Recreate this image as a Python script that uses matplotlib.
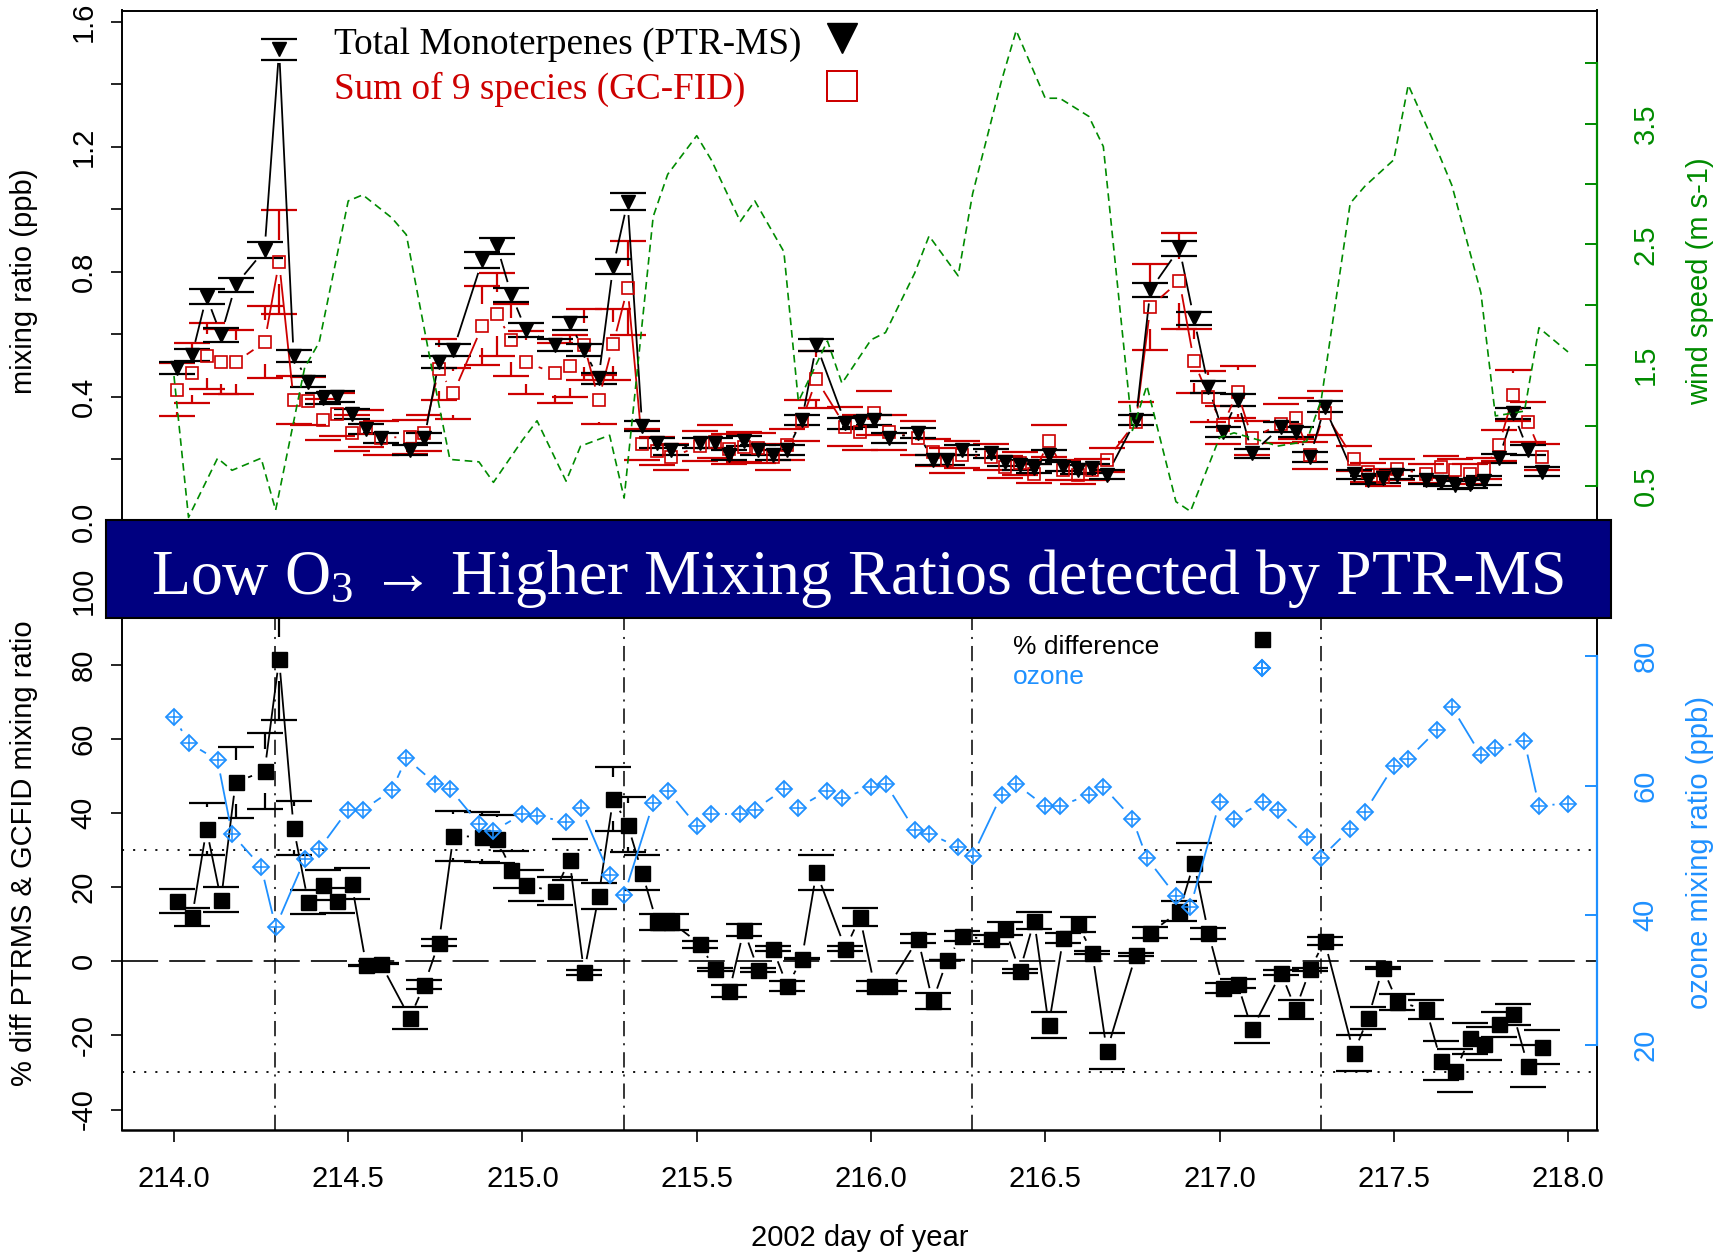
import numpy as np
import matplotlib
matplotlib.use("Agg")
import matplotlib.pyplot as plt
from matplotlib.collections import LineCollection
from matplotlib.lines import Line2D
from matplotlib.patches import Rectangle
from matplotlib.ticker import FixedLocator, FuncFormatter

plt.rcParams['font.family'] = ['Liberation Sans', 'DejaVu Sans']
plt.rcParams['axes.unicode_minus'] = False
plt.rcParams['mathtext.fontset'] = 'dejavuserif'
plt.rcParams['mathtext.default'] = 'regular'
plt.rcParams['lines.scale_dashes'] = False

# ---------------- data ----------------
# hours after day 214.01 with a PTR-MS / GC-FID pair
comp_hour = [0, 1, 2, 3, 4, 6, 7, 8, 9, 10, 11, 12, 13, 14, 16, 17, 18, 19,
             21, 22, 23, 24, 26, 27, 28, 29, 30, 31, 32, 33, 34, 36, 37, 38,
             39, 40, 41, 42, 43, 44, 46, 47, 48, 49, 51, 52, 53, 54, 56, 57,
             58, 59, 60, 61, 62, 63, 64, 66, 67, 69, 70, 71, 72, 73, 74, 76,
             77, 78, 79, 81, 82, 83, 84, 86, 87, 88, 89, 90, 91, 92, 93, 94]
ptr_ms = [0.491, 0.534, 0.721, 0.598, 0.758, 0.870, 1.512, 0.531, 0.449, 0.395,
          0.400, 0.345, 0.296, 0.267, 0.230, 0.267, 0.512, 0.550, 0.838, 0.883,
          0.726, 0.614, 0.566, 0.635, 0.550, 0.459, 0.817, 1.025, 0.307, 0.251,
          0.230, 0.253, 0.251, 0.214, 0.260, 0.230, 0.214, 0.230, 0.326, 0.566,
          0.315, 0.320, 0.326, 0.267, 0.285, 0.198, 0.198, 0.230, 0.219, 0.192,
          0.182, 0.171, 0.214, 0.176, 0.166, 0.171, 0.150, 0.326, 0.742, 0.875,
          0.651, 0.432, 0.288, 0.390, 0.219, 0.304, 0.288, 0.208, 0.368, 0.152,
          0.134, 0.139, 0.150, 0.134, 0.128, 0.118, 0.121, 0.132, 0.203, 0.347,
          0.230, 0.160]
gc_fid = [0.423, 0.477, 0.531, 0.513, 0.511, 0.575, 0.833, 0.390, 0.387, 0.327,
          0.344, 0.285, 0.299, 0.269, 0.272, 0.285, 0.488, 0.411, 0.628, 0.664,
          0.582, 0.510, 0.476, 0.498, 0.567, 0.391, 0.568, 0.749, 0.248, 0.227,
          0.208, 0.242, 0.257, 0.233, 0.240, 0.236, 0.207, 0.247, 0.324, 0.456,
          0.305, 0.286, 0.349, 0.286, 0.269, 0.222, 0.197, 0.215, 0.207, 0.176,
          0.187, 0.154, 0.258, 0.166, 0.151, 0.167, 0.198, 0.320, 0.689, 0.771,
          0.514, 0.401, 0.310, 0.415, 0.268, 0.314, 0.331, 0.213, 0.349, 0.202,
          0.158, 0.142, 0.168, 0.154, 0.175, 0.167, 0.153, 0.170, 0.245, 0.405,
          0.320, 0.208]
pct_diff = [16.2, 11.9, 35.7, 16.6, 48.3, 51.4, 81.5, 36.0, 16.0, 20.6, 16.4,
            20.9, -1.1, -0.6, -15.3, -6.3, 5.0, 33.9, 33.5, 33.0, 24.7, 20.5,
            18.9, 27.4, -3.0, 17.5, 43.8, 36.9, 23.9, 10.6, 10.6, 4.6, -2.2,
            -8.1, 8.5, -2.4, 3.4, -6.7, 0.7, 24.0, 3.4, 11.9, -6.6, -6.6, 6.1,
            -10.8, 0.3, 6.8, 5.9, 8.8, -2.7, 11.0, -17.2, 6.3, 10.0, 2.3, -24.2,
            1.8, 7.7, 13.5, 26.6, 7.6, -7.2, -6.0, -18.4, -3.1, -12.9, -2.2, 5.5,
            -24.7, -15.3, -1.8, -10.9, -13.0, -26.8, -29.5, -20.8, -22.2, -17.0,
            -14.3, -28.2, -23.1]

# hours after day 214.0 with ozone and wind speed
met_hour = [0, 1, 3, 4, 6, 7, 9, 10, 12, 13, 15, 16, 18, 19, 21, 22, 24, 25,
            27, 28, 30, 31, 33, 34, 36, 37, 39, 40, 42, 43, 45, 46, 48, 49, 51,
            52, 54, 55, 57, 58, 60, 61, 63, 64, 66, 67, 69, 70, 72, 73, 75, 76,
            78, 79, 81, 82, 84, 85, 87, 88, 90, 91, 93, 94, 96]
ozone = [70.6, 66.6, 63.9, 52.5, 47.5, 38.2, 48.6, 50.2, 56.3, 56.2, 59.3, 64.2,
         60.3, 59.5, 54.1, 53.0, 55.6, 55.3, 54.4, 56.6, 46.2, 43.1, 57.3, 59.2,
         53.8, 55.6, 55.6, 56.3, 59.4, 56.6, 59.2, 58.0, 59.7, 60.3, 53.2, 52.6,
         50.5, 49.2, 58.6, 60.2, 56.8, 56.8, 58.6, 59.8, 54.9, 48.8, 43.0, 41.3,
         57.4, 54.9, 57.5, 56.2, 52.1, 48.9, 53.3, 55.9, 63.0, 64.1, 68.6, 72.1,
         64.7, 65.8, 66.8, 56.9, 57.2]
wind = [1.41, 0.24, 0.73, 0.63, 0.73, 0.30, 1.48, 1.69, 2.86, 2.91, 2.72, 2.58,
        1.32, 0.72, 0.70, 0.53, 0.88, 1.04, 0.54, 0.83, 0.92, 0.40, 2.73, 3.08,
        3.40, 3.20, 2.69, 2.86, 2.44, 1.20, 1.70, 1.35, 1.71, 1.77, 2.26, 2.57,
        2.24, 2.92, 3.86, 4.27, 3.71, 3.71, 3.56, 3.31, 0.96, 1.33, 0.37, 0.29,
        0.90, 0.94, 0.87, 0.83, 0.87, 1.21, 2.84, 2.98, 3.20, 3.82, 3.28, 2.99,
        2.10, 1.08, 1.12, 1.81, 1.61]

morning = [214.29, 215.29, 216.29, 217.29]

# measurement uncertainties
PTR_ERR_ABS, PTR_ERR_REL = 0.012, 0.015
GC_ERR_REL = 0.20
PCT_ERR_REL = 0.20

comp_day = 214.01 + np.array(comp_hour) / 24.0
met_day = 214.0 + np.array(met_hour) / 24.0
ptr_ms = np.array(ptr_ms)
gc_fid = np.array(gc_fid)
pct_diff = np.array(pct_diff)

RED = '#cd0000'
GREEN = '#008b00'
BLUE = '#1e90ff'
NAVY = '#000080'
SERIF = ['Liberation Serif', 'DejaVu Serif']

W, H = 1726, 1254
fig = plt.figure(figsize=(W / 100, H / 100), dpi=100)


def add_axes_px(left, top, right, bottom):
    return fig.add_axes([left / W, 1 - bottom / H, (right - left) / W, (bottom - top) / H])


ax_top = add_axes_px(122.2, 10.5, 1597, 552)
ax_bot = add_axes_px(122.2, 576, 1597, 1130)
ax_wind = ax_top.twinx()
ax_oz = ax_bot.twinx()

XLIM = (213.8514, 218.0832)
for a in (ax_top, ax_bot):
    a.set_xlim(*XLIM)
ax_top.set_ylim(-0.0967, 1.6368)
ax_wind.set_ylim(-0.0464, 4.4363)
ax_bot.set_ylim(-45.53, 103.99)
ax_oz.set_ylim(6.92, 92.28)

GAP_B = 13.5     # px gap at points for "both" lines
CI_GAP = 22.0    # px gap between point and error bar
CAP = 18.0       # px half width of caps


def line_b(ax, x, y, **kw):
    to_px = ax.transData.transform
    to_data = ax.transData.inverted().transform
    pts = to_px(np.column_stack([x, y]))
    segs = []
    for p0, p1 in zip(pts[:-1], pts[1:]):
        d = p1 - p0
        L = np.hypot(*d)
        if not np.isfinite(L) or L <= 2 * GAP_B:
            continue
        u = d / L
        segs.append(to_data(np.array([p0 + u * GAP_B, p1 - u * GAP_B])))
    ax.add_collection(LineCollection(segs, **kw))


def error_ci(ax, x, y, err, color, lw=1.6, zorder=2):
    to_px = ax.transData.transform
    to_data = ax.transData.inverted().transform
    segs = []
    for xi, yi, ei in zip(x, y, err):
        cx, cy = to_px((xi, yi))
        hi = to_px((xi, yi + ei))[1]
        lo = to_px((xi, yi - ei))[1]
        segs.append([(cx - CAP, hi), (cx + CAP, hi)])
        segs.append([(cx - CAP, lo), (cx + CAP, lo)])
        if hi - cy > CI_GAP:
            segs.append([(cx, cy + CI_GAP), (cx, hi)])
        if cy - lo > CI_GAP:
            segs.append([(cx, cy - CI_GAP), (cx, lo)])
    segs = [to_data(np.array(s)) for s in segs]
    ax.add_collection(LineCollection(segs, colors=color, linewidths=lw, zorder=zorder))


def legend_key(ax, handle, x_px, y_px):
    lg = ax.legend([handle], [''], loc='center', bbox_to_anchor=(x_px / W, 1 - y_px / H),
                   bbox_transform=fig.transFigure, frameon=False, numpoints=1,
                   handlelength=1.0, handletextpad=0, borderpad=0, borderaxespad=0)
    ax.add_artist(lg)


# ---------------- top panel ----------------
error_ci(ax_top, comp_day, gc_fid, GC_ERR_REL * gc_fid, RED)
error_ci(ax_top, comp_day, ptr_ms, PTR_ERR_ABS + PTR_ERR_REL * ptr_ms, 'black')
line_b(ax_top, comp_day, gc_fid, colors=RED, linewidths=1.3, zorder=3)
line_b(ax_top, comp_day, ptr_ms, colors='black', linewidths=1.3, zorder=3)
ax_top.plot(comp_day, gc_fid, ls='none', marker='s', ms=9, mfc='none', mec=RED,
            mew=1.2, zorder=4)
ax_top.plot(comp_day, ptr_ms, ls='none', marker='v', ms=10.5, color='black', zorder=5)

ax_wind.plot(met_day, wind, color=GREEN, lw=1.2, ls=(0, (5.5, 3.5)))

# ---------------- bottom panel ----------------
ax_bot.axhline(30, color='black', lw=1.3, ls=(0, (1.5, 6.5)))
ax_bot.axhline(-30, color='black', lw=1.3, ls=(0, (1.5, 6.5)))
ax_bot.axhline(0, color='black', lw=1.2, ls=(0, (26, 8)))
for d in morning:
    ax_bot.axvline(d, color='black', lw=1.1, ls=(0, (11, 5, 1.5, 5)))

error_ci(ax_bot, comp_day, pct_diff, PCT_ERR_REL * np.abs(pct_diff), 'black')
line_b(ax_bot, comp_day, pct_diff, colors='black', linewidths=1.3, zorder=3)
ax_bot.plot(comp_day, pct_diff, ls='none', marker='s', ms=10.8, color='black', zorder=5)

OZ_D = dict(ls='none', marker='D', ms=8.4, mfc='none', mec=BLUE, mew=1.3)
OZ_P = dict(ls='none', marker='+', ms=11.8, mec=BLUE, mew=1.1)
line_b(ax_oz, met_day, ozone, colors=BLUE, linewidths=1.3, zorder=3)
ax_oz.plot(met_day, ozone, zorder=4, **OZ_D)
ax_oz.plot(met_day, ozone, zorder=4, **OZ_P)

# ---------------- axes styling ----------------
TICK_FS = 21
for a in (ax_top, ax_bot):
    for s in a.spines.values():
        s.set_linewidth(1.4)
ax_bot.spines['bottom'].set_linewidth(1.8)
for a, col, lo, hi in ((ax_wind, GREEN, 0.5, 4.0), (ax_oz, BLUE, 20, 80)):
    for k in ('left', 'top', 'bottom'):
        a.spines[k].set_visible(False)
    a.spines['right'].set_color(col)
    a.spines['right'].set_linewidth(1.6)
    a.spines['right'].set_bounds(lo, hi)

ax_top.set_xticks([])
ax_top.yaxis.set_major_locator(FixedLocator(np.arange(0, 1.61, 0.2)))
ax_top.yaxis.set_major_formatter(FuncFormatter(
    lambda v, p: '%.1f' % v if abs(v / 0.4 - round(v / 0.4)) < 1e-6 else ''))
ax_wind.yaxis.set_major_locator(FixedLocator(np.arange(0.5, 4.01, 0.5)))
ax_wind.yaxis.set_major_formatter(FuncFormatter(
    lambda v, p: '%.1f' % v if abs((v - 0.5) % 1.0) < 1e-6 else ''))
ax_bot.yaxis.set_major_locator(FixedLocator(np.arange(-40, 101, 20)))
ax_bot.yaxis.set_major_formatter(FuncFormatter(lambda v, p: '%d' % v))
ax_oz.yaxis.set_major_locator(FixedLocator(np.arange(20, 81, 20)))
ax_oz.yaxis.set_major_formatter(FuncFormatter(lambda v, p: '%d' % v))
ax_bot.xaxis.set_major_locator(FixedLocator(np.arange(214, 218.01, 0.5)))
ax_bot.xaxis.set_major_formatter(FuncFormatter(lambda v, p: '%.1f' % v))

for a in (ax_top, ax_bot):
    a.tick_params(axis='y', direction='out', length=7.9, width=1.2, pad=20,
                  labelsize=TICK_FS, labelrotation=90)
    for lab in a.get_yticklabels():
        lab.set_ha('center')
        lab.set_va('center')
ax_bot.tick_params(axis='x', direction='out', length=8.6, width=1.2, pad=27,
                   labelsize=TICK_FS)
for lab in ax_bot.get_xticklabels():
    lab.set_va('center')
for a, col in ((ax_wind, GREEN), (ax_oz, BLUE)):
    a.tick_params(axis='y', direction='in', length=8.6, width=1.4, pad=35,
                  labelsize=TICK_FS, labelrotation=90, colors=col)
    for lab in a.get_yticklabels():
        lab.set_ha('center')
        lab.set_va('center')

ax_top.set_ylabel('mixing ratio (ppb)', fontsize=TICK_FS)
ax_bot.set_ylabel('% diff PTRMS & GCFID mixing ratio', fontsize=TICK_FS)
ax_wind.set_ylabel('wind speed (m s-1)', fontsize=TICK_FS, color=GREEN, rotation=90)
ax_oz.set_ylabel('ozone mixing ratio (ppb)', fontsize=TICK_FS, color=BLUE, rotation=90)
for a, xc in ((ax_top, -0.0666), (ax_bot, -0.0666), (ax_wind, 1.0698), (ax_oz, 1.0698)):
    a.yaxis.set_label_coords(xc, 0.5)
    a.yaxis.label.set_va('center')
    a.yaxis.label.set_ha('center')
ax_bot.set_xlabel('2002 day of year', fontsize=TICK_FS)
ax_bot.xaxis.set_label_coords(0.5, -0.195)
ax_bot.xaxis.label.set_va('center')

# ---------------- legends ----------------
fig.text(333.5 / W, 1 - 45 / H, 'Total Monoterpenes (PTR-MS)', ha='left', va='center',
         fontsize=26.8, family=SERIF, color='black')
fig.text(333.5 / W, 1 - 89 / H, 'Sum of 9 species (GC-FID)', ha='left', va='center',
         fontsize=26.8, family=SERIF, color=RED)
legend_key(ax_top, Line2D([], [], ls='none', marker='v', ms=22, color='black'), 842, 38.5)
legend_key(ax_top, Line2D([], [], ls='none', marker='s', ms=21, mfc='none', mec=RED,
                          mew=1.4), 842, 87)

fig.text(1013 / W, 1 - 646.5 / H, '% difference', ha='left', va='center', fontsize=19,
         color='black')
fig.text(1013 / W, 1 - 676.5 / H, 'ozone', ha='left', va='center', fontsize=19, color=BLUE)
legend_key(ax_oz, Line2D([], [], ls='none', marker='s', ms=10.8, color='black'), 1261.5, 639.6)
legend_key(ax_oz, (Line2D([], [], **OZ_D), Line2D([], [], **OZ_P)), 1261.5, 669)

# ---------------- banner ----------------
fig.add_artist(Rectangle((105.5 / W, 1 - 618.4 / H), (1611 - 105.5) / W, (618.4 - 519.6) / H,
                         transform=fig.transFigure, facecolor=NAVY, edgecolor='black',
                         lw=1.5, zorder=10))
fig.text(858 / W, 1 - 594.5 / H,
         'Low O$_3$ \u2192 Higher Mixing Ratios detected by PTR-MS',
         ha='center', va='baseline', color='white', fontsize=46,
         family=SERIF, zorder=11)

fig.savefig('out.png', dpi=100)
